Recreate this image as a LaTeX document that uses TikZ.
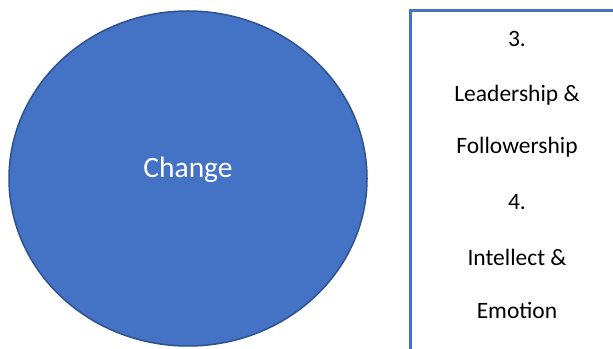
\documentclass[tikz,border=0pt]{standalone}
\usepackage{fontspec}
\setmainfont{Carlito}
\usetikzlibrary{shapes.geometric}
\definecolor{offblue}{HTML}{4472C4}
\definecolor{offdark}{HTML}{2F528F}
\tikzset{
  bubble/.style={ellipse, fill=offblue, draw=offdark, line width=1.5pt, inner sep=0pt},
  bubbletext/.style={text=white, font=\fontsize{29.5}{35}\selectfont, inner sep=0pt, anchor=base},
  panel/.style={rectangle, draw=offblue, line width=3pt, inner sep=0pt},
  line/.style={font=\fontsize{23.5}{28}\selectfont, text=black, inner sep=0pt, anchor=center}
}
\begin{document}
\begin{tikzpicture}[x=1pt,y=1pt]
\useasboundingbox (0,0) rectangle (613,348);
\clip (0,0) rectangle (613,348);
\fill[white] (0,0) rectangle (613,348);
\node[bubble, minimum width=358pt, minimum height=335pt] (change) at (188,169.5) {};
\node[bubbletext] (changelbl) at (188,170) {Change};
\node[panel, minimum width=230pt, minimum height=360pt] (box) at (525.5,157.5) {};
\node[line] (l1) at (517,309) {3.};
\node[line] (l2) at (517,253) {Leadership \&};
\node[line] (l3) at (517,201) {Followership};
\node[line] (l4) at (517,146) {4.};
\node[line] (l5) at (517,91) {Intellect \&};
\node[line] (l6) at (517,38) {Emotion};
\end{tikzpicture}
\end{document}
